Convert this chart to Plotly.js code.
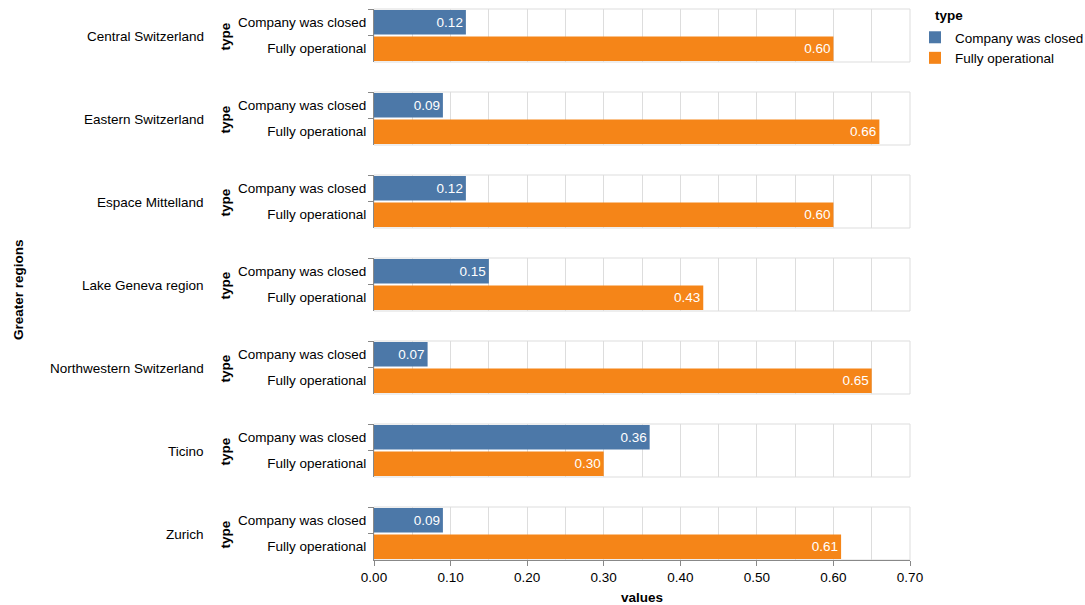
<!DOCTYPE html>
<html>
<head>
<meta charset="utf-8">
<script src="https://cdn.plot.ly/plotly-3.0.1.min.js"></script>
<style>html,body{margin:0;padding:0;background:#fff;}</style>
</head>
<body>
<div id="chart" style="width:1085px;height:605px;"></div>
<script>
const regions = ["Central Switzerland","Eastern Switzerland","Espace Mittelland","Lake Geneva region","Northwestern Switzerland","Ticino","Zurich"];
const types = ["Company was closed","Fully operational"];
const closedValues = [0.12,0.09,0.12,0.15,0.07,0.36,0.09];
const operationalValues = [0.60,0.66,0.60,0.43,0.65,0.30,0.61];
const colors = ["#4c78a8","#f58518"];
const xTickVals = [0,0.1,0.2,0.3,0.4,0.5,0.6,0.7];

const FONT = "Liberation Sans, Arial, Helvetica, sans-serif";
const FS = 13.5;
const W = 1085, H = 605;
const mL = 374, mR = W - 910, mT = 9, mB = 45;
const plotW = W - mL - mR, plotH = H - mT - mB;
const facetStep = 83, facetH = 53;
const px2x = p => (p - mL) / plotW;
const py2y = p => 1 - (p - mT) / plotH;

const data = [];
const layout = {
  width: W, height: H,
  margin: {l: mL, r: mR, t: mT, b: mB, pad: 0, autoexpand: false},
  paper_bgcolor: "#fff", plot_bgcolor: "#fff",
  font: {family: FONT, size: FS, color: "#000"},
  barmode: "group",
  bargap: 0.08,
  showlegend: true,
  legend: {
    xref: "container", yref: "container",
    x: 915 / W, y: 1 - 22 / H, xanchor: "left", yanchor: "top",
    font: {size: FS}, tracegroupgap: 0, itemwidth: 30,
    bgcolor: "rgba(0,0,0,0)"
  },
  annotations: [{
    xref: "paper", yref: "paper", x: px2x(933), y: py2y(16),
    xanchor: "left", yanchor: "middle", showarrow: false,
    text: "<b>type</b>", font: {size: FS}
  }],
  shapes: []
};

regions.forEach((r, i) => {
  const k = i + 1;
  const xa = k === 1 ? "x" : "x" + k;
  const ya = k === 1 ? "y" : "y" + k;
  const xkey = k === 1 ? "xaxis" : "xaxis" + k;
  const ykey = k === 1 ? "yaxis" : "yaxis" + k;
  const topPx = mT + facetStep * i;
  const botPx = topPx + facetH;
  const isLast = i === regions.length - 1;
  const vals = [closedValues[i], operationalValues[i]];
  types.forEach((t, j) => {
    data.push({
      type: "bar", orientation: "h",
      x: [vals[j]], y: [t],
      xaxis: xa, yaxis: ya,
      name: t, legendgroup: t, showlegend: i === 0,
      marker: {color: colors[j], line: {width: 0}},
      text: [vals[j].toFixed(2)],
      textposition: "inside", insidetextanchor: "end",
      constraintext: "none",
      textfont: {color: "#fff", size: FS, family: FONT},
      hoverinfo: "x+y"
    });
  });
  layout[xkey] = {
    domain: [0, 1], anchor: ya, range: [0, 0.7],
    matches: k === 1 ? undefined : "x",
    tickvals: xTickVals, tickformat: ".2f",
    showgrid: true, gridcolor: "#ddd", gridwidth: 1,
    minor: {dtick: 0.05, showgrid: true, gridcolor: "#ddd", gridwidth: 1, ticks: ""},
    zeroline: false,
    showticklabels: isLast,
    ticks: isLast ? "outside" : "", ticklen: 5, tickcolor: "#888",
    showline: isLast, linecolor: "#888", linewidth: 1,
    tickfont: {size: FS},
    title: isLast ? {text: "<b>values</b>", font: {size: FS}, standoff: 8} : {text: ""},
    automargin: false,
    fixedrange: true
  };
  layout[ykey] = {
    domain: [py2y(botPx), py2y(topPx)], anchor: xa,
    type: "category", categoryorder: "array", categoryarray: types,
    range: [1.5, -0.5],
    showgrid: false, zeroline: false,
    showline: true, linecolor: "#888", linewidth: 1,
    ticks: "outside", tickson: "boundaries", ticklen: 5, tickcolor: "#888",
    ticklabelstandoff: 4,
    tickfont: {size: FS},
    automargin: false,
    fixedrange: true
  };
  layout.shapes.push({
    type: "rect", xref: xa + " domain", yref: ya + " domain",
    x0: 0, x1: 1, y0: 0, y1: 1,
    line: {color: "#ddd", width: 1}, layer: "below"
  });
  const midY = py2y((topPx + botPx) / 2 + 1);
  layout.annotations.push({
    xref: "paper", yref: "paper", x: px2x(206), y: midY,
    xanchor: "right", yanchor: "middle", showarrow: false,
    text: r, font: {size: FS}
  });
  layout.annotations.push({
    xref: "paper", yref: "paper", x: px2x(225), y: midY,
    xanchor: "center", yanchor: "middle", showarrow: false,
    text: "<b>type</b>", textangle: -90, font: {size: FS}
  });
});

layout.annotations.push({
  xref: "paper", yref: "paper", x: px2x(18), y: py2y(290),
  xanchor: "center", yanchor: "middle", showarrow: false,
  text: "<b>Greater regions</b>", textangle: -90, font: {size: FS}
});

Plotly.newPlot("chart", data, layout, {displayModeBar: false, staticPlot: true});
</script>
</body>
</html>
